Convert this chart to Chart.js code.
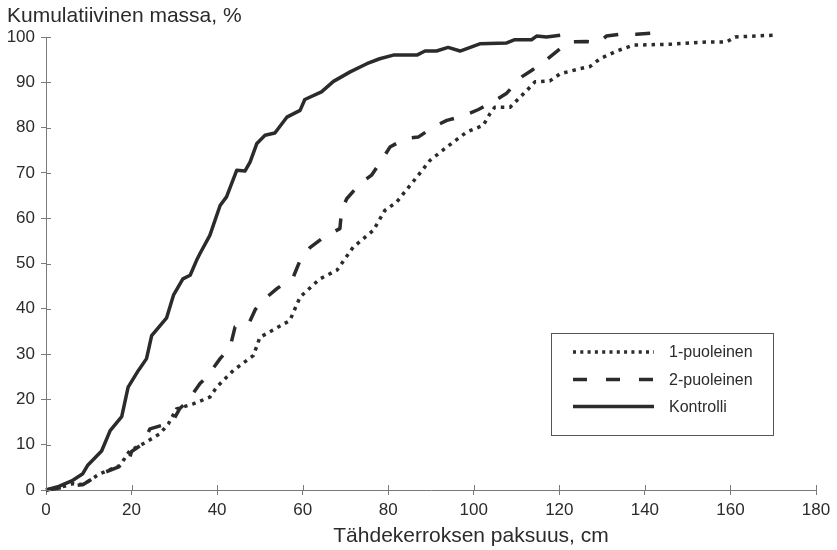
<!DOCTYPE html>
<html>
<head>
<meta charset="utf-8">
<script src="https://cdn.jsdelivr.net/npm/chart.js@4/dist/chart.umd.min.js"></script>
<style>
  html, body { margin: 0; padding: 0; background: #fff; }
  #wrap { width: 837px; height: 550px; }
</style>
</head>
<body>
<div id="wrap"><canvas id="c" width="837" height="550"></canvas></div>
<script>
// Axis titles and tick values
const xTitle = 'Tähdekerroksen paksuus, cm';
const yTitle = 'Kumulatiivinen massa, %';
const xTicks = [0, 20, 40, 60, 80, 100, 120, 140, 160, 180];
const yTicks = [0, 10, 20, 30, 40, 50, 60, 70, 80, 90, 100];
const seriesNames = ['1-puoleinen', '2-puoleinen', 'Kontrolli'];

// 1-puoleinen: thickness (cm) and cumulative mass (%)
const yksiX = [0, 3, 6.4, 8.7, 12.6, 17.3, 19.6, 22.7, 26.6, 28.6, 30.5, 34.4, 38.3, 39.9, 43.8, 48.5, 50, 57, 59.4, 64, 68, 71.8, 76.5, 79.2, 82, 86.7, 89.8, 93.7, 98.3, 102.2, 103.8, 104.9, 108.5, 112.4, 114.3, 117.8, 120.2, 124.8, 127.2, 129.5, 133.4, 137.3, 145.9, 154.4, 159.1, 161.1, 170];
const yksiY = [0, 0.5, 1.4, 1.2, 3.6, 5.4, 8.7, 10.2, 12.4, 14.6, 17.9, 19, 20.5, 22.7, 26.4, 29.7, 33.7, 37.4, 42.6, 46.6, 48.5, 53.6, 57.3, 61.7, 63.6, 69.1, 72.8, 75.7, 79, 80.5, 83.1, 84.5, 84.5, 88.2, 90.1, 90.3, 91.9, 93, 93.5, 95.2, 96.9, 98.2, 98.4, 98.9, 98.9, 100, 100.4];

// 2-puoleinen
const kaksiX = [0, 4, 8.7, 12.6, 17.3, 19, 20, 22.7, 24.3, 28.3, 29.5, 31.3, 33, 36, 37.9, 40.7, 43, 44.2, 47.3, 48.9, 50.8, 53.9, 57.8, 59.4, 61.7, 65.2, 68.7, 69.1, 70.3, 73.4, 76.1, 78.8, 80.4, 84, 87, 90.5, 93.7, 97.5, 101.1, 105, 107.7, 111.2, 113.5, 117, 120.2, 122, 126.4, 129.1, 131, 134.2, 138, 143.9];
const kaksiY = [0, 0.6, 1.2, 3.5, 5.2, 5.3, 8.5, 10.2, 13.5, 14.6, 15, 18, 19.5, 23.5, 25.3, 29, 31.4, 36, 36.5, 39.8, 41.9, 44.4, 47, 50.7, 53.5, 56, 57.7, 61.7, 64.3, 67.6, 69.5, 73.3, 75.7, 77.6, 77.9, 80.1, 81.6, 82.5, 84, 86, 87.6, 91.2, 92.6, 95, 97.4, 98.9, 99, 98.7, 100.2, 100.6, 100.6, 101];

// Kontrolli
const kontrolliX = [0, 3, 6, 8.6, 9.7, 13, 15, 17.7, 19.2, 21.6, 23.5, 24.7, 28.2, 29.8, 32, 33.7, 35.2, 36, 38.3, 40.7, 42.2, 44.6, 46.5, 47.7, 49.3, 51.2, 53.5, 56.3, 59.4, 60.5, 64.4, 67.2, 71.1, 75, 78, 81.2, 86.7, 88.6, 91.3, 94, 96.8, 101.4, 107.7, 109.6, 113.5, 114.7, 117, 120.2];
const kontrolliY = [0, 0.8, 2, 3.6, 5.4, 8.6, 13.1, 16.2, 22.7, 26.4, 29, 34.1, 38, 43, 46.6, 47.4, 50.7, 52.2, 56.2, 62.8, 64.7, 70.6, 70.4, 72.4, 76.5, 78.3, 78.8, 82.3, 83.8, 86.2, 87.9, 90.2, 92.3, 94.1, 95.2, 96, 96, 96.9, 96.9, 97.7, 96.9, 98.5, 98.7, 99.4, 99.4, 100.2, 100, 100.4];

const FONT = "'Liberation Sans', Arial, sans-serif";
const INK = '#2b2b2b';
const AXIS = '#7a7a7a';

const pts = (xs, ys) => xs.map((x, i) => ({ x, y: ys[i] }));

const lineStyles = [
  { borderDash: [3.5, 5], borderWidth: 3.5 },
  { borderDash: [15, 17], borderWidth: 3.5 },
  { borderDash: [], borderWidth: 3.5 }
];

const seriesData = [pts(yksiX, yksiY), pts(kaksiX, kaksiY), pts(kontrolliX, kontrolliY)];

const datasets = seriesNames.map((name, i) => ({
  label: name,
  data: seriesData[i],
  borderColor: INK,
  borderWidth: lineStyles[i].borderWidth,
  borderDash: lineStyles[i].borderDash,
  borderCapStyle: 'butt',
  borderJoinStyle: 'round',
  pointRadius: 0,
  tension: 0,
  fill: false,
  clip: false
}));

// Ticks crossing into the plot, the boxed legend and the axis titles
const decorations = {
  id: 'decorations',
  afterDraw(chart) {
    const ctx = chart.ctx;
    const xs = chart.scales.x, ys = chart.scales.y;
    ctx.save();
    ctx.strokeStyle = AXIS;
    ctx.lineWidth = 1;
    ctx.beginPath();
    xTicks.forEach(v => {
      const px = Math.round(xs.getPixelForValue(v)) + 0.5;
      ctx.moveTo(px, ys.bottom);
      ctx.lineTo(px, ys.bottom - 5);
    });
    yTicks.forEach(v => {
      const py = Math.round(ys.getPixelForValue(v)) + 0.5;
      ctx.moveTo(xs.left, py);
      ctx.lineTo(xs.left + 5, py);
    });
    ctx.stroke();

    // legend
    const bx = 551.5, by = 333.5, bw = 222, bh = 102;
    ctx.strokeStyle = '#555';
    ctx.lineWidth = 1;
    ctx.strokeRect(bx, by, bw, bh);
    const rows = [352, 379.5, 406.5];
    ctx.font = '16px ' + FONT;
    ctx.textBaseline = 'middle';
    ctx.textAlign = 'left';
    chart.data.datasets.forEach((ds, i) => {
      ctx.strokeStyle = ds.borderColor;
      ctx.lineWidth = ds.borderWidth;
      ctx.setLineDash(i === 0 ? [3, 4.3] : i === 1 ? [14, 19] : []);
      ctx.beginPath();
      ctx.moveTo(573, rows[i]);
      ctx.lineTo(654, rows[i]);
      ctx.stroke();
      ctx.setLineDash([]);
      ctx.fillStyle = INK;
      ctx.fillText(ds.label, 669, rows[i] + 1);
    });

    // axis titles
    ctx.fillStyle = INK;
    ctx.font = '21px ' + FONT;
    ctx.textBaseline = 'alphabetic';
    ctx.textAlign = 'left';
    ctx.fillText(yTitle, 7, 22);
    ctx.textAlign = 'center';
    ctx.fillText(xTitle, 471, 542);
    ctx.restore();
  }
};

new Chart(document.getElementById('c'), {
  type: 'line',
  data: { datasets },
  options: {
    responsive: false,
    animation: false,
    devicePixelRatio: 1,
    layout: { padding: { top: 37, right: 21, bottom: 0, left: 0 } },
    plugins: { legend: { display: false }, tooltip: { enabled: false }, title: { display: false } },
    scales: {
      x: {
        type: 'linear',
        min: 0, max: 180,
        afterFit(scale) { scale.height = 60; },
        afterBuildTicks(scale) { scale.ticks = xTicks.map(v => ({ value: v })); },
        grid: { drawOnChartArea: false, drawTicks: true, tickLength: 5, color: AXIS, lineWidth: 1 },
        border: { display: true, color: AXIS, width: 1 },
        ticks: { color: INK, font: { family: FONT, size: 17 }, padding: 5, maxRotation: 0 }
      },
      y: {
        type: 'linear',
        min: 0, max: 100,
        afterFit(scale) { scale.width = 46; },
        afterBuildTicks(scale) { scale.ticks = yTicks.map(v => ({ value: v })); },
        grid: { drawOnChartArea: false, drawTicks: true, tickLength: 5, color: AXIS, lineWidth: 1 },
        border: { display: true, color: AXIS, width: 1 },
        ticks: { color: INK, font: { family: FONT, size: 17 }, padding: 6 }
      }
    }
  },
  plugins: [decorations]
});
</script>
</body>
</html>
